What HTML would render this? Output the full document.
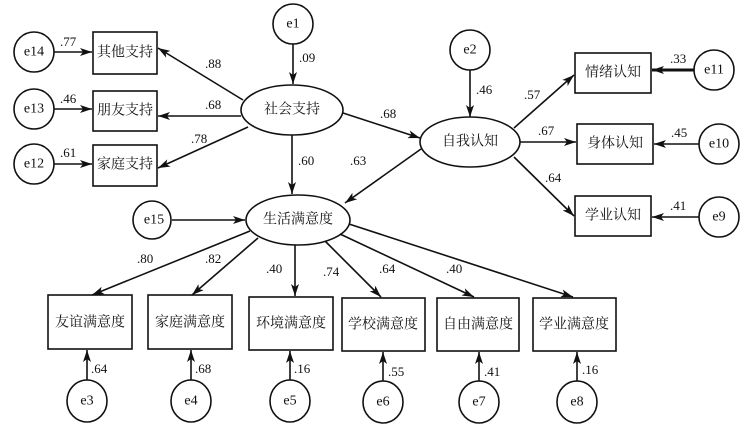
<!DOCTYPE html>
<html><head><meta charset="utf-8"><style>
html,body{margin:0;padding:0;background:#fff;}
svg{display:block;}
text{font-family:"Liberation Serif","Noto Serif CJK SC",serif;fill:#111;}
.n{font-size:14px;}
.c{font-size:14px;font-family:"Liberation Serif","Noto Serif CJK SC","Noto Sans CJK SC",serif;}
.l{font-size:13px;}
</style></head><body>
<svg width="746" height="429" viewBox="0 0 746 429" xmlns="http://www.w3.org/2000/svg">
<defs>
<marker id="a" viewBox="0 0 12 8" refX="12" refY="4" markerWidth="12" markerHeight="8" orient="auto" markerUnits="userSpaceOnUse">
<path d="M0,0 L12,4 L0,8 L3,4 Z" fill="#111"/>
</marker>
</defs>
<g stroke="#111" stroke-width="1.6" fill="none">
<!-- circles -->
<circle cx="293" cy="24" r="20"/>
<circle cx="34" cy="52" r="20"/>
<circle cx="34" cy="109" r="20"/>
<circle cx="34" cy="164" r="20"/>
<circle cx="470" cy="50" r="20"/>
<circle cx="714" cy="70" r="20"/>
<circle cx="719" cy="144" r="20"/>
<circle cx="719" cy="217" r="20"/>
<circle cx="152" cy="220" r="19"/>
<ellipse cx="87" cy="401" rx="20" ry="21"/>
<ellipse cx="191" cy="401" rx="20" ry="21"/>
<ellipse cx="290" cy="401" rx="20" ry="21"/>
<ellipse cx="383" cy="402" rx="20" ry="21"/>
<ellipse cx="479" cy="402" rx="20" ry="21"/>
<ellipse cx="577" cy="402" rx="20" ry="21"/>
<!-- ellipses -->
<ellipse cx="292" cy="110" rx="51" ry="25"/>
<ellipse cx="470" cy="142" rx="50" ry="25"/>
<ellipse cx="298" cy="220" rx="52" ry="25"/>
<!-- boxes -->
<rect x="93" y="32" width="64" height="42"/>
<rect x="93" y="91" width="64" height="40"/>
<rect x="93" y="145" width="64" height="41"/>
<rect x="575" y="53" width="76" height="40"/>
<rect x="577" y="124" width="76" height="40"/>
<rect x="575" y="196" width="76" height="40"/>
<rect x="48" y="295" width="84" height="54"/>
<rect x="148" y="295" width="84" height="54"/>
<rect x="249" y="297" width="84" height="53"/>
<rect x="342" y="298" width="83" height="53"/>
<rect x="437" y="298" width="82" height="53"/>
<rect x="533" y="298" width="83" height="53"/>
</g>
<g stroke="#111" stroke-width="1.6" marker-end="url(#a)">
<line x1="293" y1="44" x2="293" y2="84"/>
<line x1="54" y1="52" x2="92" y2="52"/>
<line x1="54" y1="109" x2="92" y2="109"/>
<line x1="54" y1="164" x2="92" y2="164"/>
<line x1="243" y1="100" x2="158" y2="48"/>
<line x1="241" y1="116" x2="158" y2="116"/>
<line x1="248" y1="127" x2="158" y2="168"/>
<line x1="343" y1="113" x2="420" y2="138"/>
<line x1="470" y1="70" x2="470" y2="117"/>
<line x1="292" y1="135" x2="292" y2="194"/>
<line x1="421" y1="149" x2="345" y2="203"/>
<line x1="514" y1="128" x2="574" y2="75"/>
<line x1="520" y1="142" x2="576" y2="142"/>
<line x1="514" y1="157" x2="574" y2="216"/>
<line x1="694" y1="70" x2="652" y2="70" stroke-width="3"/>
<line x1="699" y1="144" x2="654" y2="144"/>
<line x1="699" y1="217" x2="652" y2="217"/>
<line x1="172" y1="220" x2="245" y2="220"/>
<line x1="250" y1="231" x2="92" y2="295"/>
<line x1="258" y1="238" x2="192" y2="295"/>
<line x1="295" y1="245" x2="295" y2="296"/>
<line x1="325" y1="241" x2="381" y2="297"/>
<line x1="340" y1="234" x2="474" y2="297"/>
<line x1="349" y1="224" x2="573" y2="297"/>
<line x1="87" y1="380" x2="87" y2="350"/>
<line x1="191" y1="380" x2="191" y2="350"/>
<line x1="290" y1="380" x2="290" y2="351"/>
<line x1="383" y1="381" x2="383" y2="352"/>
<line x1="479" y1="381" x2="479" y2="352"/>
<line x1="577" y1="381" x2="577" y2="352"/>
</g>
<g class="n" text-anchor="middle" dominant-baseline="central">
<text x="293" y="24">e1</text>
<text x="34" y="52">e14</text>
<text x="34" y="109">e13</text>
<text x="34" y="164">e12</text>
<text x="470" y="50">e2</text>
<text x="714" y="70">e11</text>
<text x="719" y="144">e10</text>
<text x="719" y="217">e9</text>
<text x="154" y="220">e15</text>
<text x="87" y="401">e3</text>
<text x="191" y="401">e4</text>
<text x="290" y="401">e5</text>
<text x="383" y="402">e6</text>
<text x="479" y="402">e7</text>
<text x="577" y="402">e8</text>
</g>
<g class="c" text-anchor="middle" dominant-baseline="central">
<text x="292" y="110">社会支持</text>
<text x="470" y="142">自我认知</text>
<text x="298" y="220">生活满意度</text>
<text x="125" y="53">其他支持</text>
<text x="125" y="111">朋友支持</text>
<text x="125" y="165">家庭支持</text>
<text x="613" y="73">情绪认知</text>
<text x="615" y="144">身体认知</text>
<text x="613" y="216">学业认知</text>
<text x="90" y="323">友谊满意度</text>
<text x="190" y="323">家庭满意度</text>
<text x="291" y="324">环境满意度</text>
<text x="383" y="325">学校满意度</text>
<text x="478" y="325">自由满意度</text>
<text x="574" y="325">学业满意度</text>
</g>
<g class="l">
<text x="299" y="62">.09</text>
<text x="60" y="46">.77</text>
<text x="60" y="103">.46</text>
<text x="60" y="157">.61</text>
<text x="205" y="68">.88</text>
<text x="205" y="109">.68</text>
<text x="191" y="143">.78</text>
<text x="380" y="118">.68</text>
<text x="476" y="94">.46</text>
<text x="298" y="165">.60</text>
<text x="350" y="165">.63</text>
<text x="524" y="99">.57</text>
<text x="538" y="135">.67</text>
<text x="545" y="182">.64</text>
<text x="670" y="63">.33</text>
<text x="671" y="137">.45</text>
<text x="670" y="210">.41</text>
<text x="137" y="263">.80</text>
<text x="205" y="263">.82</text>
<text x="266" y="273">.40</text>
<text x="323" y="276">.74</text>
<text x="379" y="273">.64</text>
<text x="446" y="273">.40</text>
<text x="91" y="373">.64</text>
<text x="195" y="373">.68</text>
<text x="294" y="373">.16</text>
<text x="388" y="376">.55</text>
<text x="484" y="376">.41</text>
<text x="582" y="374">.16</text>
</g>
</svg>
</body></html>
